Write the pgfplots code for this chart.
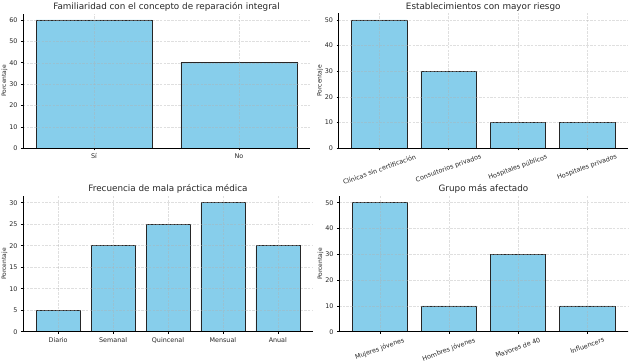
\documentclass[border=0pt]{standalone}
\usepackage{pgfplots}
\pgfplotsset{compat=1.18}
\usepackage{fontspec}
\setmainfont{DejaVu Sans}
\definecolor{skyblue}{HTML}{87CEEB}
\definecolor{gridc}{HTML}{B0B0B0}
\definecolor{txt}{HTML}{262626}
\pgfplotsset{
  panel/.style={
    scale only axis,
    anchor=south west,
    axis lines=left,
    axis line style={-, black, line width=0.6pt},
    ymin=0,
    ybar, bar width=0.8,
    grid=major,
    grid style={dash pattern=on 2.5pt off 1.2pt, gridc, opacity=0.4, line width=0.4pt},
    axis on top,
    tick align=outside,
    major tick length=2pt,
    tick style={black, line width=0.5pt},
    xtick=data,
    ticklabel style={font=\fontsize{6.4}{7}\selectfont, text=txt},
    /pgf/number format/assume math mode=true,
    ylabel={Porcentaje},
    ylabel style={font=\fontsize{6}{7}\selectfont, text=txt, yshift=-5pt},
    title style={font=\fontsize{8.8}{10}\selectfont, text=txt, yshift=-7pt},
  },
  mybar/.style={fill=skyblue, draw=black!85, line width=0.6pt},
}
\begin{document}
\begin{tikzpicture}[x=1pt,y=1pt]
\path[use as bounding box] (0,0) rectangle (632,361);
% Panel 1
\begin{axis}[panel, at={(23pt,212.7pt)}, width=287pt, height=134.8pt,
  xmin=-0.49, xmax=1.49, ymax=63, ytick={0,10,...,60},
  xticklabels={Sí,No},
  title={Familiaridad con el concepto de reparación integral}]
\addplot[mybar] coordinates {(0,60) (1,40)};
\end{axis}
% Panel 2
\begin{axis}[panel, at={(338.5pt,212.7pt)}, width=289.5pt, height=134.8pt,
  xmin=-0.59, xmax=3.59, ymax=52.5, ytick={0,10,...,50},
  xticklabels={\rotatebox{20}{Clínicas sin certificación},\rotatebox{20}{Consultorios privados},\rotatebox{20}{Hospitales públicos},\rotatebox{20}{Hospitales privados}},
  xticklabel style={anchor=north},
  title={Establecimientos con mayor riesgo}]
\addplot[mybar] coordinates {(0,50) (1,30) (2,10) (3,10)};
\end{axis}
% Panel 3
\begin{axis}[panel, at={(23pt,29.3pt)}, width=290pt, height=135.45pt,
  xmin=-0.64, xmax=4.64, ymax=31.5, ytick={0,5,...,30},
  xticklabels={Diario,Semanal,Quincenal,Mensual,Anual},
  title={Frecuencia de mala práctica médica}]
\addplot[mybar] coordinates {(0,5) (1,20) (2,25) (3,30) (4,20)};
\end{axis}
% Panel 4
\begin{axis}[panel, at={(339pt,29.3pt)}, width=289pt, height=135.45pt,
  xmin=-0.59, xmax=3.59, ymax=52.5, ytick={0,10,...,50},
  xticklabels={\rotatebox{20}{Mujeres jóvenes},\rotatebox{20}{Hombres jóvenes},\rotatebox{20}{Mayores de 40},\rotatebox{20}{Influencers}},
  xticklabel style={anchor=north},
  title={Grupo más afectado}]
\addplot[mybar] coordinates {(0,50) (1,10) (2,30) (3,10)};
\end{axis}
\end{tikzpicture}
\end{document}
